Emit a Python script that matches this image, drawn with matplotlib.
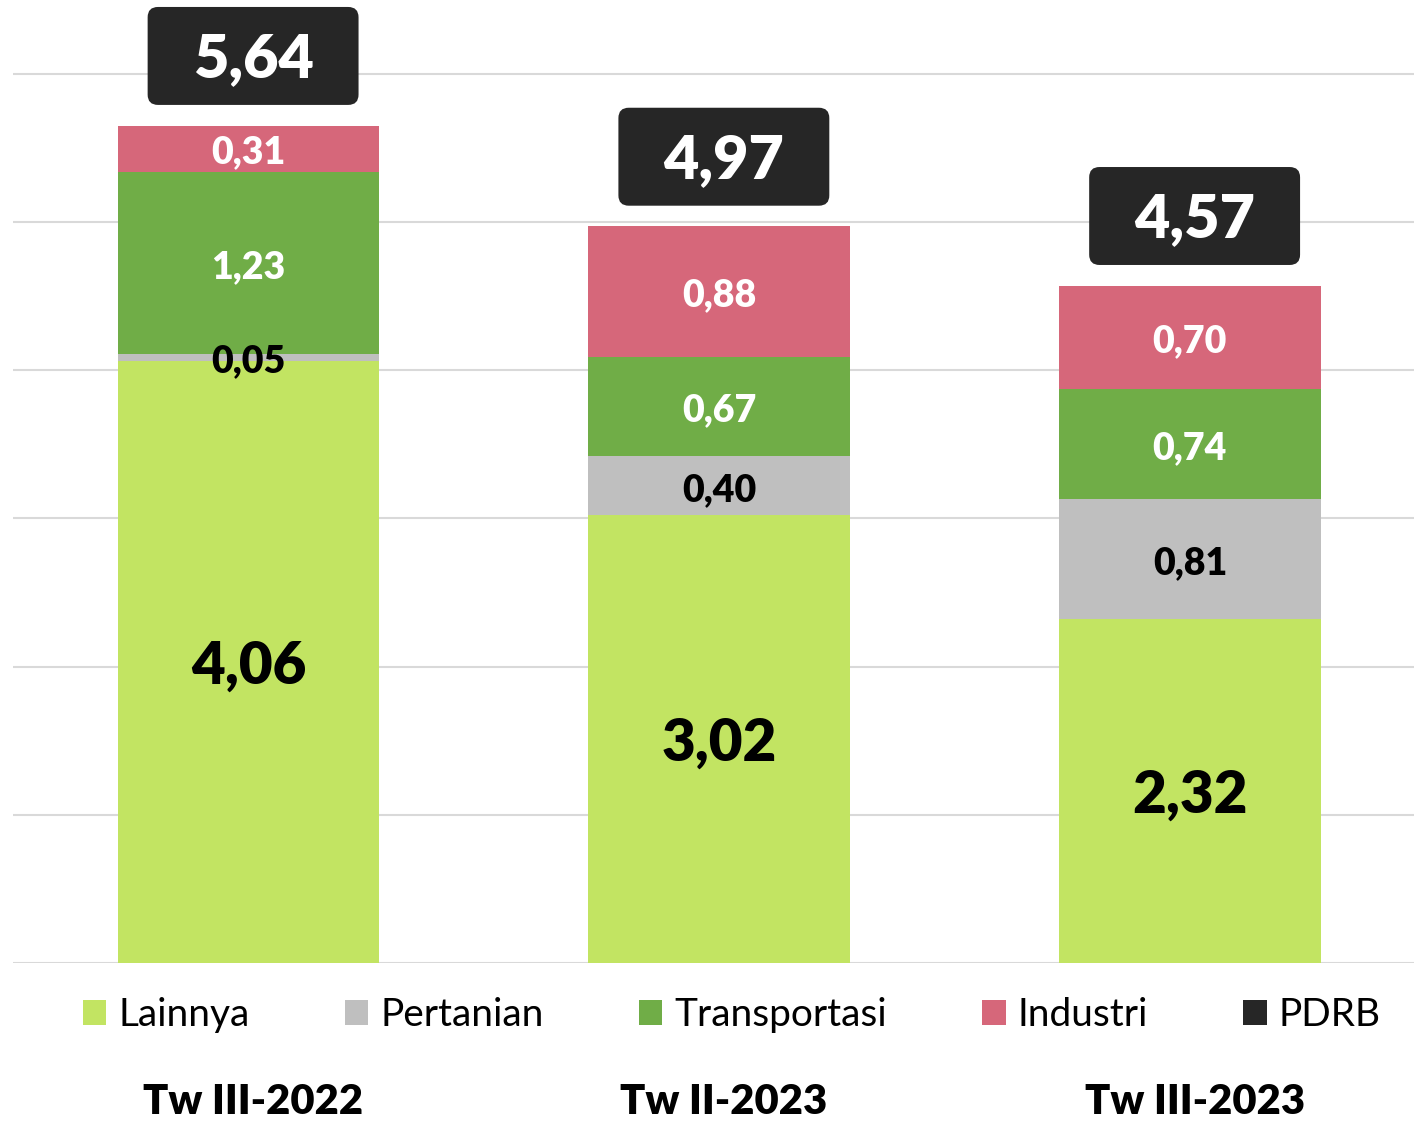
import matplotlib
matplotlib.use("Agg")
import matplotlib.pyplot as plt
from matplotlib.patches import Patch, FancyBboxPatch

plt.rcParams['font.family'] = ['Lato', 'DejaVu Sans']

categories = ["Tw III-2022", "Tw II-2023", "Tw III-2023"]
series_names = ["Lainnya", "Pertanian", "Transportasi", "Industri"]
lainnya = [4.06, 3.02, 2.32]
pertanian = [0.05, 0.40, 0.81]
transportasi = [1.23, 0.67, 0.74]
industri = [0.31, 0.88, 0.70]
pdrb = [5.64, 4.97, 4.57]

series = [lainnya, pertanian, transportasi, industri]
colors = ["#C2E462", "#BFBFBF", "#70AD47", "#D6677A"]
label_colors = ["black", "black", "white", "white"]
pdrb_color = "#262626"
BOLD = "heavy"


def fmt(v):
    return f"{v:.2f}".replace(".", ",")


fig = plt.figure(figsize=(14.14, 11.22), dpi=100)
ax = fig.add_axes([13 / 1414, 159 / 1122, 1401 / 1414, 6.4 * 148.2 / 1122])

x = list(range(len(categories)))
width = 0.556
bottoms = [0.0] * len(categories)
for k, (vals, col, lc) in enumerate(zip(series, colors, label_colors)):
    ax.bar(x, vals, width, bottom=bottoms, color=col, zorder=3, label=series_names[k])
    for i, v in enumerate(vals):
        fs = 42 if k == 0 else 27
        ax.annotate(fmt(v), (x[i], bottoms[i] + v / 2), xytext=(0, -4),
                    textcoords="offset pixels", ha="center", va="center",
                    fontsize=fs, fontweight=BOLD, color=lc, zorder=5)
    bottoms = [b + v for b, v in zip(bottoms, vals)]

# PDRB total boxes
box_w = 0.448
box_h = 0.661
gap = 0.14
for i, tot in enumerate(pdrb):
    top = bottoms[i]
    cx = x[i] + 0.01
    box = FancyBboxPatch((cx - box_w / 2, top + gap), box_w, box_h,
                         boxstyle="round,pad=0,rounding_size=0.022",
                         mutation_aspect=3.15, facecolor=pdrb_color,
                         edgecolor="none", zorder=4, clip_on=False)
    ax.add_patch(box)
    ax.annotate(fmt(tot), (cx, top + gap + box_h / 2), xytext=(0, -3),
                textcoords="offset pixels", ha="center", va="center",
                fontsize=44, fontweight=BOLD, color="white", zorder=6,
                annotation_clip=False)

ax.set_xlim(-0.5, 2.476)
ax.set_ylim(0, 6.4)
ax.set_yticks(range(0, 7))
ax.yaxis.grid(True, color="#D9D9D9", linewidth=1.5, zorder=0)
ax.set_axisbelow(True)
ax.tick_params(axis="y", left=False, labelleft=False)
ax.set_xticks([xi + 0.01 for xi in x])
ax.set_xticklabels(categories, fontsize=30, fontweight=BOLD)
ax.tick_params(axis="x", bottom=False, pad=83)
for s in ax.spines.values():
    s.set_visible(False)

handles = [Patch(facecolor=c, edgecolor="none") for c in colors]
handles.append(Patch(facecolor=pdrb_color, edgecolor="none"))
labels = series_names + ["PDRB"]
fig.legend(handles, labels, loc="center", bbox_to_anchor=(732 / 1414, 1 - 1015 / 1122),
           ncol=5, frameon=False, fontsize=28, handlelength=0.6, handleheight=0.6,
           handletextpad=0.31, columnspacing=2.45)

fig.savefig("out.png", dpi=100)
